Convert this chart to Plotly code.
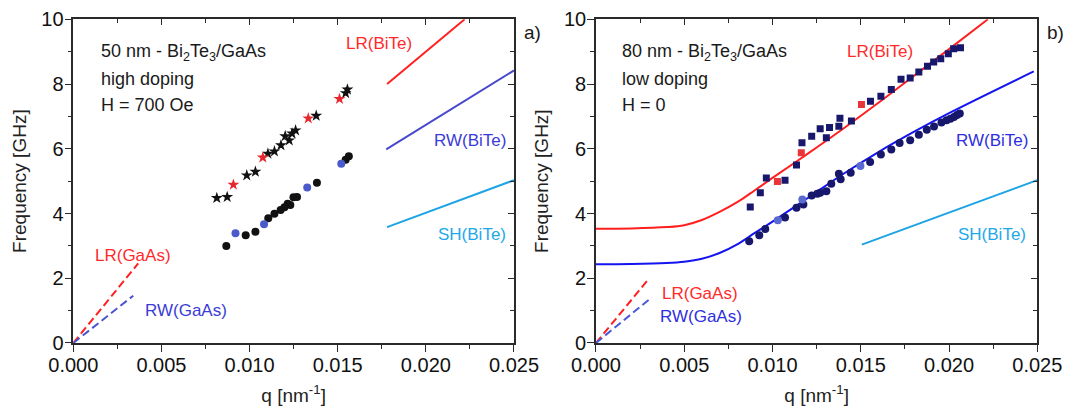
import plotly.graph_objects as go

# ---------------- data ----------------
# Panel a) 50 nm, high doping, H = 700 Oe
a_star_q = [0.00814, 0.00873, 0.00984, 0.01033, 0.01104, 0.01141, 0.01178, 0.01202,
            0.01225, 0.01241, 0.01261, 0.01378, 0.01545, 0.01555]
a_star_f = [4.48, 4.51, 5.18, 5.29, 5.85, 5.92, 6.11, 6.39, 6.26, 6.47, 6.57, 7.02, 7.72, 7.83]
a_star_red_q = [0.00908, 0.01075, 0.01333, 0.01510]
a_star_red_f = [4.89, 5.73, 6.94, 7.54]

a_circ_q = [0.00868, 0.00978, 0.01033, 0.01106, 0.01141, 0.01176, 0.01198, 0.01216,
            0.01231, 0.01249, 0.01269, 0.01382, 0.01545, 0.01563]
a_circ_f = [3.00, 3.33, 3.44, 3.85, 3.99, 4.11, 4.19, 4.30, 4.26, 4.50, 4.51, 4.95, 5.66, 5.77]
a_circ_blue_q = [0.00920, 0.01082, 0.01327, 0.01520]
a_circ_blue_f = [3.39, 3.67, 4.80, 5.54]

a_lr_bite_q = [0.0178, 0.0222]
a_lr_bite_f = [8.0, 10.0]
a_rw_bite_q = [0.01775, 0.025]
a_rw_bite_f = [5.98, 8.42]
a_sh_bite_q = [0.0178, 0.025]
a_sh_bite_f = [3.58, 5.03]
a_lr_gaas_q = [0.0, 0.00368]
a_lr_gaas_f = [0.0, 2.46]
a_rw_gaas_q = [0.0, 0.0034]
a_rw_gaas_f = [0.0, 1.46]

# Panel b) 80 nm, low doping, H = 0
b_sq_q = [0.00874, 0.00931, 0.00965, 0.01071, 0.01136, 0.01167, 0.01222, 0.01270, 0.01305,
          0.01323, 0.01376, 0.01382, 0.01447, 0.01555, 0.01614, 0.01673, 0.01728, 0.01780,
          0.01829, 0.01878, 0.01913, 0.01953, 0.01996, 0.02026, 0.02065]
b_sq_f = [4.20, 4.64, 5.10, 5.03, 5.50, 6.19, 6.39, 6.62, 6.34, 6.66, 6.70, 6.94, 6.86, 7.47,
          7.62, 7.83, 8.15, 8.19, 8.37, 8.55, 8.68, 8.78, 8.94, 9.09, 9.12]
b_sq_red_q = [0.01028, 0.01163, 0.01504]
b_sq_red_f = [4.99, 5.88, 7.37]

b_circ_q = [0.00868, 0.00925, 0.00959, 0.01071, 0.01136, 0.01175, 0.01222, 0.01254, 0.01270,
            0.01305, 0.01333, 0.01376, 0.01386, 0.01443, 0.01553, 0.01614, 0.01673, 0.01720,
            0.01780, 0.01829, 0.01874, 0.01915, 0.01957, 0.01986, 0.02008, 0.02028, 0.02045,
            0.02061]
b_circ_f = [3.14, 3.33, 3.52, 3.88, 4.18, 4.28, 4.56, 4.61, 4.64, 4.69, 4.92, 5.23, 5.06, 5.26,
            5.59, 5.82, 5.98, 6.18, 6.26, 6.43, 6.59, 6.69, 6.81, 6.88, 6.93, 6.98, 7.04, 7.09]
b_circ_light_q = [0.01030, 0.01169, 0.01498]
b_circ_light_f = [3.79, 4.43, 5.47]

b_lr_curve_q = [0.0, 0.002, 0.004, 0.005, 0.006, 0.007, 0.008, 0.009, 0.010, 0.012, 0.014,
                0.016, 0.018, 0.020, 0.0222]
b_lr_curve_f = [3.53, 3.54, 3.58, 3.64, 3.80, 4.05, 4.35, 4.72, 5.10, 5.85, 6.62, 7.42, 8.25,
                9.08, 10.0]
b_rw_curve_q = [0.0, 0.002, 0.004, 0.005, 0.006, 0.007, 0.008, 0.009, 0.010, 0.012, 0.014,
                0.016, 0.018, 0.020, 0.0248]
b_rw_curve_f = [2.43, 2.44, 2.47, 2.51, 2.60, 2.78, 3.05, 3.40, 3.75, 4.48, 5.22, 5.90, 6.52,
                7.10, 8.39]
b_sh_bite_q = [0.01506, 0.025]
b_sh_bite_f = [3.04, 5.03]
b_lr_gaas_q = [0.0, 0.00302]
b_lr_gaas_f = [0.0, 2.0]
b_rw_gaas_q = [0.0, 0.00316]
b_rw_gaas_f = [0.0, 1.41]

x_tickvals = [0.0, 0.005, 0.010, 0.015, 0.020, 0.025]
x_ticktext = ["0.000", "0.005", "0.010", "0.015", "0.020", "0.025"]
y_tickvals = [0, 2, 4, 6, 8, 10]
y_ticktext = ["0", "2", "4", "6", "8", "10"]

# ---------------- styles ----------------
FONT = "Arial, Liberation Sans, sans-serif"
RED = "#ff1f1f"
BLUE = "#1414f0"
SLATE = "#4848cc"
SKY = "#1ba3e3"
NAVY = "#17176b"
AX = "#2a2a2a"

fig = go.Figure()


def line(q, f, color, xa, ya, dash=None, shape="linear", width=2):
    fig.add_trace(go.Scatter(x=q, y=f, mode="lines", xaxis=xa, yaxis=ya,
                             line=dict(color=color, width=width, dash=dash, shape=shape,
                                       smoothing=1.0),
                             showlegend=False, hoverinfo="skip"))


def pts(q, f, color, symbol, size, xa, ya):
    fig.add_trace(go.Scatter(x=q, y=f, mode="markers", xaxis=xa, yaxis=ya,
                             marker=dict(color=color, symbol=symbol, size=size,
                                         line=dict(width=0)),
                             showlegend=False, hoverinfo="skip"))


DASH = "8px,4px"
# panel a
line(a_lr_bite_q, a_lr_bite_f, RED, "x", "y")
line(a_rw_bite_q, a_rw_bite_f, SLATE, "x", "y")
line(a_sh_bite_q, a_sh_bite_f, SKY, "x", "y")
line(a_lr_gaas_q, a_lr_gaas_f, RED, "x", "y", dash=DASH)
line(a_rw_gaas_q, a_rw_gaas_f, "#4a55d0", "x", "y", dash=DASH)
pts(a_star_q, a_star_f, "#111111", "star", 9, "x", "y")
pts(a_star_red_q, a_star_red_f, "#e8262e", "star", 9, "x", "y")
pts(a_circ_q, a_circ_f, "#111111", "circle", 8, "x", "y")
pts(a_circ_blue_q, a_circ_blue_f, "#4a5acb", "circle", 8, "x", "y")

# panel b
line(b_lr_curve_q, b_lr_curve_f, RED, "x2", "y2", shape="spline")
line(b_rw_curve_q, b_rw_curve_f, BLUE, "x2", "y2", shape="spline")
line(b_sh_bite_q, b_sh_bite_f, SKY, "x2", "y2")
line(b_lr_gaas_q, b_lr_gaas_f, RED, "x2", "y2", dash=DASH)
line(b_rw_gaas_q, b_rw_gaas_f, "#4a5ad8", "x2", "y2", dash=DASH)
pts(b_sq_q, b_sq_f, NAVY, "square", 7, "x2", "y2")
pts(b_sq_red_q, b_sq_red_f, "#e8353a", "square", 7, "x2", "y2")
pts(b_circ_q, b_circ_f, NAVY, "circle", 8, "x2", "y2")
pts(b_circ_light_q, b_circ_light_f, "#5a6ad0", "circle", 8, "x2", "y2")

XD1 = [0.0677, 0.4746]
XD2 = [0.5503, 0.9578]
YD = [0.1655, 0.953]

tickfont = dict(family=FONT, size=20, color="#111111")
titlefont = dict(family=FONT, size=19, color="#222222")


def xaxis(domain, anchor):
    return dict(domain=domain, anchor=anchor, range=[0, 0.025], tickvals=x_tickvals,
                ticktext=x_ticktext, ticks="outside", ticklen=7, tickwidth=1.3,
                tickcolor=AX, showline=True, linewidth=1.6, linecolor=AX, mirror=True,
                showgrid=False, zeroline=False, tickfont=tickfont, automargin=False,
                ticklabelstandoff=-4,
                minor=dict(dtick=0.0025, tick0=0, ticks="outside", ticklen=4,
                           tickwidth=1.3, tickcolor=AX, showgrid=False),
                title=dict(text="q [nm<sup>-1</sup>]", font=titlefont, standoff=14))


def yaxis(domain, anchor):
    return dict(domain=domain, anchor=anchor, range=[0, 10], tickvals=y_tickvals,
                ticktext=y_ticktext, ticks="outside", ticklen=7, tickwidth=1.3,
                tickcolor=AX, showline=True, linewidth=1.6, linecolor=AX, mirror=True,
                showgrid=False, zeroline=False, tickfont=tickfont, automargin=False,
                ticklabelstandoff=-3,
                minor=dict(dtick=1, tick0=0, ticks="outside", ticklen=4,
                           tickwidth=1.3, tickcolor=AX, showgrid=False),
                title=dict(text="Frequency [GHz]", font=titlefont, standoff=10))


def xtop(over, anchor):
    return dict(overlaying=over, anchor=anchor, side="top", range=[0, 0.025],
                tickvals=x_tickvals, ticks="inside", ticklen=6, tickwidth=1.3,
                tickcolor=AX, showticklabels=False, showline=False, showgrid=False,
                zeroline=False, automargin=False,
                minor=dict(dtick=0.0025, tick0=0, ticks="inside", ticklen=4,
                           tickwidth=1.3, tickcolor=AX, showgrid=False))


def yright(over, anchor):
    return dict(overlaying=over, anchor=anchor, side="right", range=[0, 10],
                tickvals=y_tickvals, ticks="inside", ticklen=6, tickwidth=1.3,
                tickcolor=AX, showticklabels=False, showline=False, showgrid=False,
                zeroline=False, automargin=False,
                minor=dict(dtick=1, tick0=0, ticks="inside", ticklen=4,
                           tickwidth=1.3, tickcolor=AX, showgrid=False))


# empty traces so the top/right tick axes are drawn
fig.add_trace(go.Scatter(x=[], y=[], xaxis="x3", yaxis="y3", showlegend=False))
fig.add_trace(go.Scatter(x=[], y=[], xaxis="x4", yaxis="y4", showlegend=False))

fig.update_layout(
    width=1083, height=411,
    margin=dict(l=0, r=0, t=0, b=0, autoexpand=False),
    paper_bgcolor="white", plot_bgcolor="white",
    font=dict(family=FONT),
    xaxis=xaxis(XD1, "y"), yaxis=yaxis(YD, "x"),
    xaxis2=xaxis(XD2, "y2"), yaxis2=yaxis(YD, "x2"),
    xaxis3=xtop("x", "y3"), yaxis3=yright("y", "x3"),
    xaxis4=xtop("x2", "y4"), yaxis4=yright("y2", "x4"),
)

ann = []


def note(text, x, y, color, xref, yref, size=17, xanchor="center"):
    ann.append(dict(text=text, x=x, y=y, xref=xref, yref=yref, showarrow=False,
                    xanchor=xanchor, yanchor="middle",
                    font=dict(family=FONT, size=size, color=color)))


TXT = "#1a1a1a"
# panel a text
note("50 nm - Bi<sub>2</sub>Te<sub>3</sub>/GaAs", 0.00143, 8.99, TXT, "x", "y", 18, "left")
note("high doping", 0.00143, 8.16, TXT, "x", "y", 18, "left")
note("H = 700 Oe", 0.00143, 7.35, TXT, "x", "y", 18, "left")
note("LR(BiTe)", 0.01733, 9.24, "#ff2a2a", "x", "y")
note("RW(BiTe)", 0.02249, 6.27, "#3b3bd8", "x", "y")
note("SH(BiTe)", 0.0226, 3.34, "#22a8e8", "x", "y")
note("LR(GaAs)", 0.00338, 2.69, "#ff2a2a", "x", "y")
note("RW(GaAs)", 0.00639, 0.99, "#3b3bd8", "x", "y")
note("a)", 0.492, 0.92, TXT, "paper", "paper", 19)
# panel b text
note("80 nm - Bi<sub>2</sub>Te<sub>3</sub>/GaAs", 0.00136, 8.99, TXT, "x2", "y2", 18, "left")
note("low doping", 0.00136, 8.16, TXT, "x2", "y2", 18, "left")
note("H = 0", 0.00136, 7.35, TXT, "x2", "y2", 18, "left")
note("LR(BiTe)", 0.0161, 9.02, "#ff2a2a", "x2", "y2")
note("RW(BiTe)", 0.02245, 6.27, "#2e2ee0", "x2", "y2")
note("SH(BiTe)", 0.02245, 3.34, "#22a8e8", "x2", "y2")
note("LR(GaAs)", 0.0059, 1.54, "#ff2a2a", "x2", "y2")
note("RW(GaAs)", 0.00595, 0.83, "#2e2ee0", "x2", "y2")
note("b)", 0.975, 0.92, TXT, "paper", "paper", 19)

fig.update_layout(annotations=ann)

fig.write_html("out.html",
               config={"displayModeBar": False},
               post_script="document.body.style.margin='0';"
                           "document.body.style.overflow='hidden';")
